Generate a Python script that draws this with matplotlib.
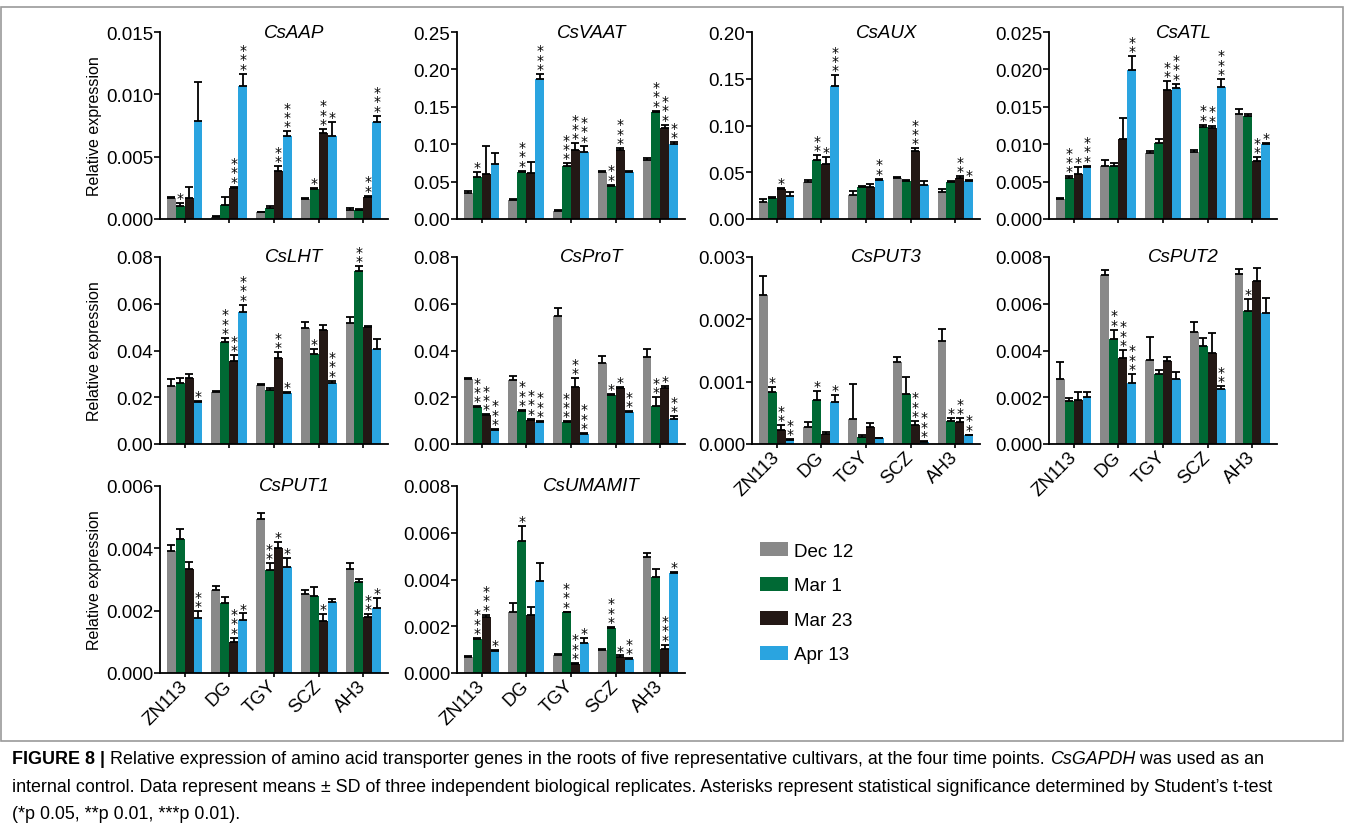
import numpy as np
import matplotlib.pyplot as plt
from matplotlib.patches import Patch, Rectangle

plt.rcParams['font.family'] = ['Liberation Sans', 'DejaVu Sans']

W, H = 1355, 829

cultivars = ['ZN113', 'DG', 'TGY', 'SCZ', 'AH3']
time_points = ['Dec 12', 'Mar 1', 'Mar 23', 'Apr 13']
colors = ['#898989', '#006934', '#231815', '#2aa4e0']

# rows = time points (Dec 12, Mar 1, Mar 23, Apr 13), cols = cultivars
aap_mean = [[0.00169, 0.0002, 0.00054, 0.00158, 0.00075],
            [0.00102, 0.00115, 0.00086, 0.00241, 0.00072],
            [0.00166, 0.00252, 0.00383, 0.00686, 0.0018],
            [0.00785, 0.01066, 0.00662, 0.00662, 0.00777]]
aap_sd = [[0.00005, 0.00003, 0.00005, 0.00008, 0.0001],
          [0.00027, 0.00059, 0.00021, 0.00008, 0.00008],
          [0.00094, 0.00008, 0.0004, 0.00037, 0.00008],
          [0.00315, 0.001, 0.00042, 0.00115, 0.00053]]
aap_sig = [[0, 0, 0, 0, 0], [1, 0, 0, 1, 0], [0, 3, 2, 3, 2], [0, 3, 3, 1, 3]]

vaat_mean = [[0.0353, 0.025, 0.0107, 0.0634, 0.0786],
             [0.0563, 0.0634, 0.0714, 0.0438, 0.1437],
             [0.0603, 0.0616, 0.0924, 0.0924, 0.1223],
             [0.0741, 0.1875, 0.0902, 0.0634, 0.0996]]
vaat_sd = [[0.0017, 0.0018, 0.0018, 0.001, 0.0027],
           [0.0062, 0.0013, 0.0032, 0.0022, 0.001],
           [0.0377, 0.0143, 0.0089, 0.0027, 0.004],
           [0.0143, 0.0065, 0.008, 0.001, 0.0031]]
vaat_sig = [[0, 0, 0, 0, 0], [1, 3, 3, 2, 3], [0, 0, 3, 3, 3], [0, 3, 3, 0, 2]]

aux_mean = [[0.0186, 0.04, 0.0261, 0.0439, 0.0293],
            [0.0225, 0.0632, 0.0339, 0.0411, 0.0396],
            [0.0318, 0.0586, 0.0339, 0.0732, 0.0436],
            [0.025, 0.1421, 0.0421, 0.0364, 0.0404]]
aux_sd = [[0.0025, 0.0021, 0.0035, 0.0008, 0.0028],
          [0.0008, 0.0054, 0.0015, 0.001, 0.0008],
          [0.0011, 0.0074, 0.0036, 0.0025, 0.0021],
          [0.0036, 0.0115, 0.0011, 0.0043, 0.0017]]
aux_sig = [[0, 0, 0, 0, 0], [0, 2, 0, 0, 0], [1, 1, 0, 3, 2], [0, 3, 2, 0, 1]]

atl_mean = [[0.00268, 0.00714, 0.0088, 0.00893, 0.0141],
            [0.00545, 0.00714, 0.0102, 0.0123, 0.01375],
            [0.00603, 0.0107, 0.0173, 0.0121, 0.00772],
            [0.0070, 0.0199, 0.0175, 0.0177, 0.00996]]
atl_sd = [[0.00012, 0.00076, 0.00035, 0.00027, 0.0006],
          [0.00025, 0.00036, 0.0005, 0.0003, 0.00035],
          [0.00087, 0.0028, 0.0011, 0.0004, 0.00054],
          [0.00014, 0.0019, 0.0006, 0.001, 0.00024]]
atl_sig = [[0, 0, 0, 0, 0], [3, 0, 0, 2, 0], [1, 0, 2, 2, 2], [3, 2, 3, 3, 1]]

lht_mean = [[0.0247, 0.0221, 0.0251, 0.0496, 0.0517],
            [0.026, 0.0436, 0.0231, 0.0386, 0.074],
            [0.0283, 0.0354, 0.0366, 0.0489, 0.05],
            [0.0179, 0.0566, 0.0217, 0.026, 0.0407]]
lht_sd = [[0.0029, 0.0004, 0.0006, 0.0025, 0.0026],
          [0.0023, 0.0017, 0.0007, 0.0021, 0.002],
          [0.0017, 0.0027, 0.0027, 0.0021, 0.0003],
          [0.0007, 0.003, 0.0007, 0.0011, 0.0043]]
lht_sig = [[0, 0, 0, 0, 0], [0, 3, 0, 1, 2], [0, 2, 2, 0, 0], [1, 3, 1, 3, 0]]

prot_mean = [[0.0279, 0.0274, 0.0549, 0.0347, 0.0374],
             [0.0157, 0.014, 0.0093, 0.021, 0.0164],
             [0.0124, 0.0103, 0.0243, 0.0239, 0.0239],
             [0.0061, 0.0094, 0.0043, 0.0136, 0.0106]]
prot_sd = [[0.0004, 0.0015, 0.0034, 0.003, 0.0033],
           [0.0004, 0.0006, 0.0004, 0.0004, 0.0036],
           [0.0003, 0.0006, 0.004, 0.0004, 0.0011],
           [0.0004, 0.0004, 0.0004, 0.0004, 0.0013]]
prot_sig = [[0, 0, 0, 0, 0], [3, 3, 3, 1, 2], [3, 3, 2, 1, 1], [3, 3, 3, 2, 2]]

put3_mean = [[0.002395, 0.00028, 0.0004, 0.00131, 0.00166],
             [0.00083, 0.00071, 0.00011, 0.00081, 0.00037],
             [0.000225, 0.00016, 0.00027, 0.00031, 0.00035],
             [0.000064, 0.00067, 0.00009, 0.00004, 0.00014]]
put3_sd = [[0.0003, 0.00008, 0.00056, 0.00008, 0.00018],
           [0.00008, 0.00014, 0.00004, 0.00027, 0.00005],
           [0.000075, 0.00004, 0.00007, 0.00006, 0.00007],
           [0.00001, 0.00011, 0.00001, 0.00001, 0.00001]]
put3_sig = [[0, 0, 0, 0, 0], [1, 1, 0, 0, 1], [2, 0, 0, 3, 2], [2, 1, 0, 3, 2]]

put2_mean = [[0.00279, 0.00724, 0.0036, 0.00479, 0.00729],
             [0.00183, 0.00449, 0.00299, 0.0042, 0.00567],
             [0.00189, 0.00369, 0.00356, 0.00389, 0.00697],
             [0.00203, 0.0026, 0.00279, 0.00236, 0.0056]]
put2_sd = [[0.00071, 0.00022, 0.00097, 0.00041, 0.00021],
           [0.00014, 0.0004, 0.00018, 0.00034, 0.00054],
           [0.00032, 0.00034, 0.00015, 0.00085, 0.00057],
           [0.00018, 0.0004, 0.00028, 0.00011, 0.00066]]
put2_sig = [[0, 0, 0, 0, 0], [0, 2, 0, 0, 1], [0, 3, 0, 0, 0], [0, 3, 0, 2, 0]]

put1_mean = [[0.00391, 0.00265, 0.00493, 0.00254, 0.00335],
             [0.00429, 0.00225, 0.00331, 0.00246, 0.00293],
             [0.00335, 0.001, 0.00401, 0.00168, 0.0018],
             [0.00175, 0.0017, 0.00341, 0.00229, 0.00208]]
put1_sd = [[0.00019, 0.00014, 0.00019, 0.00011, 0.00019],
           [0.00032, 0.00018, 0.00021, 0.0003, 0.00009],
           [0.00022, 0.00013, 0.0002, 0.00022, 0.00008],
           [0.00023, 0.00021, 0.00029, 0.00007, 0.00033]]
put1_sig = [[0, 0, 0, 0, 0], [0, 0, 2, 0, 0], [0, 3, 1, 1, 2], [2, 1, 1, 0, 1]]

umamit_mean = [[0.00069, 0.0026, 0.00079, 0.00097, 0.00496],
               [0.00147, 0.00564, 0.0026, 0.00193, 0.00411],
               [0.0024, 0.0025, 0.00039, 0.00069, 0.00103],
               [0.00093, 0.00393, 0.00129, 0.00061, 0.00426]]
umamit_sd = [[0.00004, 0.0004, 0.00004, 0.00006, 0.00018],
             [0.00003, 0.00065, 0.00003, 0.00004, 0.00036],
             [0.0001, 0.00033, 0.00004, 0.00006, 0.00018],
             [0.00004, 0.00078, 0.00021, 0.00004, 0.00007]]
umamit_sig = [[0, 0, 0, 0, 0], [3, 1, 3, 3, 0], [3, 0, 3, 1, 3], [1, 0, 1, 2, 1]]

# name, mean, sd, sig, ymax, tick step, decimals, row, col
panels = [
    ('CsAAP', aap_mean, aap_sd, aap_sig, 0.015, 0.005, 3, 0, 0),
    ('CsVAAT', vaat_mean, vaat_sd, vaat_sig, 0.25, 0.05, 2, 0, 1),
    ('CsAUX', aux_mean, aux_sd, aux_sig, 0.20, 0.05, 2, 0, 2),
    ('CsATL', atl_mean, atl_sd, atl_sig, 0.025, 0.005, 3, 0, 3),
    ('CsLHT', lht_mean, lht_sd, lht_sig, 0.08, 0.02, 2, 1, 0),
    ('CsProT', prot_mean, prot_sd, prot_sig, 0.08, 0.02, 2, 1, 1),
    ('CsPUT3', put3_mean, put3_sd, put3_sig, 0.003, 0.001, 3, 1, 2),
    ('CsPUT2', put2_mean, put2_sd, put2_sig, 0.008, 0.002, 3, 1, 3),
    ('CsPUT1', put1_mean, put1_sd, put1_sig, 0.006, 0.002, 3, 2, 0),
    ('CsUMAMIT', umamit_mean, umamit_sd, umamit_sig, 0.008, 0.002, 3, 2, 1),
]
with_xlabels = ['CsPUT3', 'CsPUT2', 'CsPUT1', 'CsUMAMIT']

col_left = [160, 457, 752, 1049]
row_top = [33, 258, 487]
ax_w, ax_h = 228, 187

fig = plt.figure(figsize=(W / 100, H / 100), dpi=100)
fig.patch.set_facecolor('white')

# frame around the panels
fig.add_artist(Rectangle((1 / W, 1 - 742 / H), 1342 / W, 734 / H, transform=fig.transFigure,
                         fill=False, edgecolor='#9a9a9a', linewidth=1.2))

x = np.arange(len(cultivars))
bw = 0.2
for name, mean, sd, sig, ymax, step, dec, r, c in panels:
    ax = fig.add_axes([col_left[c] / W, 1 - (row_top[r] + ax_h) / H, ax_w / W, ax_h / H])
    for i in range(len(time_points)):
        xs = x + (i - 1.5) * bw
        m = np.array(mean[i])
        s = np.array(sd[i])
        ax.bar(xs, m, bw, color=colors[i], zorder=2)
        ax.errorbar(xs, m, yerr=[np.zeros_like(s), s], fmt='none', ecolor='black',
                    elinewidth=1.3, capsize=3, capthick=1.3, zorder=3)
        for j in range(len(cultivars)):
            n = sig[i][j]
            if n:
                # stacked significance stars
                ax.annotate('\n'.join(['*'] * n), xy=(xs[j], m[j] + s[j]), xytext=(0, -1.5),
                            textcoords='offset points', ha='center', va='bottom',
                            fontsize=10, family='DejaVu Sans', linespacing=0.58,
                            annotation_clip=False)
    ax.set_xlim(-0.55, 4.55)
    ax.set_ylim(0, ymax)
    ticks = np.arange(0, ymax + step / 2, step)
    ax.set_yticks(ticks)
    ax.set_yticklabels([f'{v:.{dec}f}' for v in ticks])
    ax.set_xticks(x)
    if name in with_xlabels:
        ax.set_xticklabels(cultivars, rotation=45, ha='right', va='center',
                           rotation_mode='anchor')
    else:
        ax.set_xticklabels([])
    for sp in ['top', 'right']:
        ax.spines[sp].set_visible(False)
    for sp in ['left', 'bottom']:
        ax.spines[sp].set_linewidth(1.3)
    ax.tick_params(axis='y', length=4, width=1.2, labelsize=13.5, pad=1)
    ax.tick_params(axis='x', length=3, width=1.2, labelsize=13.5, pad=4)
    ax.text(0.59, 1.0, name, transform=ax.transAxes, ha='center', va='center',
            style='italic', fontsize=13.5)
    if c == 0:
        ax.set_ylabel('Relative expression', fontsize=11.5)
        ax.yaxis.set_label_coords(-0.255, 0.5)

handles = [Patch(facecolor=colors[i], label=time_points[i]) for i in range(4)]
fig.legend(handles=handles, loc='upper left', bbox_to_anchor=(760 / W, 1 - 543 / H),
           frameon=False, fontsize=13.5, handlelength=1.5, handleheight=0.8,
           handletextpad=0.3, labelspacing=0.9, borderpad=0, borderaxespad=0)

# caption
renderer = fig.canvas.get_renderer()
cap_fs = 12.9


def put_line(ypix, parts):
    xp = 12
    for txt, kw in parts:
        t = fig.text(xp / W, 1 - ypix / H, txt, fontsize=cap_fs, va='center', ha='left', **kw)
        xp += t.get_window_extent(renderer=renderer).width


put_line(760, [('FIGURE 8 |', {'fontweight': 'bold'}),
               (' Relative expression of amino acid transporter genes in the roots of five '
                'representative cultivars, at the four time points. ', {}),
               ('CsGAPDH', {'style': 'italic'}),
               (' was used as an', {})])
put_line(788, [('internal control. Data represent means \u00b1 SD of three independent biological '
                'replicates. Asterisks represent statistical significance determined by '
                'Student\u2019s t-test', {})])
put_line(815, [('(*p 0.05, **p 0.01, ***p 0.01).', {})])

fig.savefig('out.png', dpi=100)
